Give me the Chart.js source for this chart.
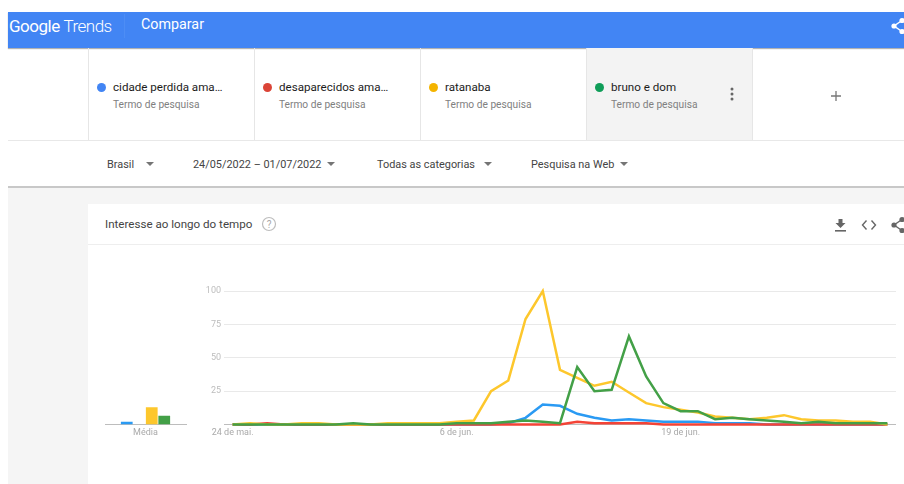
<!DOCTYPE html>
<html lang="pt-BR">
<head>
<meta charset="utf-8">
<title>Google Trends</title>
<script src="https://cdn.jsdelivr.net/npm/chart.js@4"></script>
<style>
  html, body { margin: 0; padding: 0; background: #fff; }
  body { position: relative; width: 904px; height: 484px; overflow: hidden; font-family: Roboto, sans-serif; }
  .abs { position: absolute; white-space: nowrap; line-height: 1; }
  #header { position: absolute; left: 8px; top: 12px; width: 896px; height: 36px; background: #4285f4; box-shadow: 0 1px 1px rgba(0,0,0,.3); }
  #greybg { position: absolute; left: 8px; top: 188px; width: 896px; height: 296px; background: #f5f5f5; }
  #filterline { position: absolute; left: 8px; top: 186px; width: 896px; height: 2px; background: #c8c8c8; }
  #tabline { position: absolute; left: 8px; top: 140px; width: 896px; height: 1px; background: #e8e8e8; }
  #card { position: absolute; left: 88px; top: 204px; width: 816px; height: 280px; background: #fff; }
  #cardline { position: absolute; left: 88px; top: 244px; width: 816px; height: 1px; background: #eee; }
  .tab { position: absolute; top: 48px; width: 166px; height: 92px; border-left: 1px solid #e6e6e6; box-sizing: content-box; }
  .dot { position: absolute; width: 9px; height: 9px; border-radius: 50%; top: 83px; }
  .term { font-size: 11.6px; color: #1c1c1c; top: 82px; }
  .sub { font-size: 10.2px; color: #808080; top: 100px; }
  .filter { font-size: 10.9px; color: #444; top: 160px; }
  .arrow { position: absolute; top: 162px; width: 0; height: 0; border-left: 4px solid transparent; border-right: 4px solid transparent; border-top: 4px solid #757575; }
  canvas { position: absolute; }
</style>
</head>
<body>
<div id="header"></div>
<div class="abs" style="left:9px;top:18px;font-size:17px;color:#fff;letter-spacing:-.5px">Google <span style="font-weight:300">Trends</span></div>
<div class="abs" style="left:124px;top:14px;width:1px;height:24px;background:#4d8df5"></div>
<div class="abs" style="left:141px;top:17px;font-size:14.3px;color:#fff">Comparar</div>
<svg class="abs" style="left:890px;top:16px" width="14" height="20" viewBox="0 0 14 20">
  <path d="M12 4.5 L4 10 L12 15.5" stroke="#fff" stroke-width="1.5" fill="none"/>
  <circle cx="12" cy="4.5" r="2.6" fill="#fff"/><circle cx="4" cy="10" r="2.6" fill="#fff"/><circle cx="12" cy="15.5" r="2.6" fill="#fff"/>
</svg>

<div class="tab" style="left:88px"></div>
<div class="tab" style="left:254px"></div>
<div class="tab" style="left:420px"></div>
<div class="tab" style="left:586px;background:#f3f3f3"></div>
<div class="tab" style="left:752px;width:0"></div>
<div id="tabline"></div>

<div class="dot" style="left:97px;background:#4285f4"></div>
<div class="abs term" style="left:113px">cidade perdida ama…</div>
<div class="abs sub" style="left:113px">Termo de pesquisa</div>
<div class="dot" style="left:263px;background:#db4437"></div>
<div class="abs term" style="left:279px">desaparecidos ama…</div>
<div class="abs sub" style="left:279px">Termo de pesquisa</div>
<div class="dot" style="left:429px;background:#f4b400"></div>
<div class="abs term" style="left:445px">ratanaba</div>
<div class="abs sub" style="left:445px">Termo de pesquisa</div>
<div class="dot" style="left:595px;background:#0f9d58"></div>
<div class="abs term" style="left:611px">bruno e dom</div>
<div class="abs sub" style="left:611px">Termo de pesquisa</div>
<svg class="abs" style="left:729px;top:87px" width="6" height="14">
  <circle cx="3" cy="2" r="1.5" fill="#666"/><circle cx="3" cy="7" r="1.5" fill="#666"/><circle cx="3" cy="12" r="1.5" fill="#666"/>
</svg>
<svg class="abs" style="left:830px;top:90px" width="12" height="12">
  <path d="M6 1 V11 M1 6 H11" stroke="#777" stroke-width="1.3"/>
</svg>

<div class="abs filter" style="left:107px">Brasil</div>
<div class="arrow" style="left:146px"></div>
<div class="abs filter" style="left:193px">24/05/2022 – 01/07/2022</div>
<div class="arrow" style="left:327px"></div>
<div class="abs filter" style="left:377px">Todas as categorias</div>
<div class="arrow" style="left:484px"></div>
<div class="abs filter" style="left:531px">Pesquisa na Web</div>
<div class="arrow" style="left:620px"></div>

<div id="greybg"></div>
<div id="filterline"></div>
<div id="card"></div>
<div id="cardline"></div>
<div class="abs" style="left:105px;top:219px;font-size:11.6px;color:#444">Interesse ao longo do tempo</div>
<svg class="abs" style="left:261px;top:216px" width="16" height="16">
  <circle cx="8" cy="8" r="6.5" stroke="#bdbdbd" stroke-width="1.2" fill="none"/>
  <text x="8" y="11.5" font-size="10" text-anchor="middle" fill="#a8a8a8" font-family="Roboto">?</text>
</svg>
<svg class="abs" style="left:834px;top:218px" width="13" height="15">
  <path d="M4 1 H8 V5 H11 L6 10 L1 5 H4 Z" fill="#666" transform="translate(.5 0)"/><rect x="1" y="12" width="11" height="1.6" fill="#666"/>
</svg>
<svg class="abs" style="left:861px;top:219px" width="16" height="12">
  <path d="M5.5 1.5 L1.5 6 L5.5 10.5 M10.5 1.5 L14.5 6 L10.5 10.5" stroke="#666" stroke-width="1.4" fill="none"/>
</svg>
<svg class="abs" style="left:890px;top:215px" width="14" height="20" viewBox="0 0 14 20">
  <path d="M12 4.5 L4 10 L12 15.5" stroke="#666" stroke-width="1.4" fill="none"/>
  <circle cx="12" cy="4.5" r="2.6" fill="#666"/><circle cx="4" cy="10" r="2.6" fill="#666"/><circle cx="12" cy="15.5" r="2.6" fill="#666"/>
</svg>

<canvas id="avg-chart" style="left:100px;top:280px;width:90px;height:170px" width="90" height="170"></canvas>
<canvas id="time-chart" style="left:190px;top:280px;width:714px;height:170px" width="714" height="170"></canvas>

<script>
// ---------------------------------------------------------------------------
// Data
// ---------------------------------------------------------------------------

const days = [
  '24 de mai.', '25 de mai.', '26 de mai.', '27 de mai.', '28 de mai.', '29 de mai.', '30 de mai.', '31 de mai.',
  '1 de jun.', '2 de jun.', '3 de jun.', '4 de jun.', '5 de jun.', '6 de jun.', '7 de jun.', '8 de jun.',
  '9 de jun.', '10 de jun.', '11 de jun.', '12 de jun.', '13 de jun.', '14 de jun.', '15 de jun.', '16 de jun.',
  '17 de jun.', '18 de jun.', '19 de jun.', '20 de jun.', '21 de jun.', '22 de jun.', '23 de jun.', '24 de jun.',
  '25 de jun.', '26 de jun.', '27 de jun.', '28 de jun.', '29 de jun.', '30 de jun.', '1 de jul.',
];
const shownDays = ['24 de mai.', '6 de jun.', '19 de jun.'];
const yTicks = [25, 50, 75, 100];

const cidadePerdida = [0, 0, 0, 0, 0, 0, 0, 0, 0, 0, 0, 0, 0, 0, 0, 0, 1, 5, 15, 14, 8, 5, 3, 4, 3, 2, 2, 2, 1, 1, 1, 0, 0, 0, 0, 0, 0, 0, 0];
const desaparecidos = [0, 0, 1, 0, 0, 0, 0, 0, 0, 0, 0, 0, 0, 0, 0, 0, 0, 0, 0, 0, 2, 1, 1, 1, 1, 0, 0, 0, 0, 0, 0, 0, 0, 0, 0, 0, 0, 0, 0];
const ratanaba = [0, 1, 0, 0, 1, 1, 0, 0, 0, 1, 1, 1, 1, 2, 3, 25, 33, 79, 100, 41, 35, 29, 32, 24, 16, 13, 11, 9, 6, 5, 4, 5, 7, 4, 3, 3, 2, 2, 0];
const brunoEDom = [0, 0, 0, 0, 0, 0, 0, 1, 0, 0, 0, 0, 0, 1, 1, 1, 2, 3, 2, 1, 43, 25, 26, 66, 36, 16, 10, 10, 4, 5, 4, 3, 2, 1, 2, 1, 1, 1, 1];

const avgLabels = ['Média'];
const avgCidade = [2];
const avgDesaparecidos = [0];
const avgRatanaba = [13];
const avgBruno = [6.5];

const BLUE = '#2a9af3';
const RED = '#f44336';
const YELLOW = '#fdc72c';
const GREEN = '#43a047';

// ---------------------------------------------------------------------------
// Charts
// ---------------------------------------------------------------------------

Chart.defaults.font.family = 'Roboto, sans-serif';
Chart.defaults.animation = false;

const lineDataset = (label, data, color) => ({
  label,
  data,
  borderColor: color,
  backgroundColor: color,
  borderWidth: 2.5,
  pointRadius: 0,
  tension: 0,
  clip: false,
});

new Chart(document.getElementById('time-chart'), {
  type: 'line',
  data: {
    labels: days,
    datasets: [
      lineDataset('cidade perdida amazônia', cidadePerdida, BLUE),
      lineDataset('desaparecidos amazônia', desaparecidos, RED),
      lineDataset('ratanaba', ratanaba, YELLOW),
      lineDataset('bruno e dom', brunoEDom, GREEN),
    ].map((d, i) => ({ ...d, order: 3 - i })),
  },
  options: {
    responsive: false,
    layout: { padding: { top: 11, right: 8, left: 0, bottom: 0 } },
    plugins: { legend: { display: false }, tooltip: { enabled: false } },
    scales: {
      x: {
        offset: true,
        grid: { display: false, drawTicks: false },
        border: { display: false },
        ticks: {
          autoSkip: false,
          maxRotation: 0,
          padding: 3,
          color: '#a9a9a9',
          font: { size: 9 },
          callback(value) {
            const label = this.getLabelForValue(value);
            return shownDays.includes(label) ? label : '';
          },
        },
        afterFit(scale) { scale.height = 25.5; },
      },
      y: {
        min: 0,
        max: 100,
        afterBuildTicks(scale) { scale.ticks = [0, ...yTicks].map(value => ({ value })); },
        grid: {
          drawTicks: false,
          lineWidth: 1,
          color: ctx => (ctx.tick.value === 0 ? '#bdbdbd' : '#e9e9e9'),
        },
        border: { display: false },
        ticks: {
          padding: 3,
          color: '#bdbdbd',
          font: { size: 9 },
          callback: value => (value === 0 ? '' : value),
        },
        afterFit(scale) { scale.width = 34; },
      },
    },
  },
});

const barDataset = (label, data, color) => ({
  label,
  data,
  backgroundColor: color,
  categoryPercentage: 0.617,
  barPercentage: 0.94,
});

new Chart(document.getElementById('avg-chart'), {
  type: 'bar',
  data: {
    labels: avgLabels,
    datasets: [
      barDataset('cidade perdida amazônia', avgCidade, BLUE),
      barDataset('desaparecidos amazônia', avgDesaparecidos, RED),
      barDataset('ratanaba', avgRatanaba, YELLOW),
      barDataset('bruno e dom', avgBruno, GREEN),
    ],
  },
  options: {
    responsive: false,
    layout: { padding: { top: 11, right: 4, left: 5, bottom: 0 } },
    plugins: { legend: { display: false }, tooltip: { enabled: false } },
    scales: {
      x: {
        grid: { display: false, drawTicks: false },
        border: { display: true, color: '#bdbdbd', width: 1 },
        ticks: { padding: 3, color: '#a9a9a9', font: { size: 9 } },
        afterFit(scale) { scale.height = 25.5; },
      },
      y: { display: false, min: 0, max: 100 },
    },
  },
});
</script>
</body>
</html>
